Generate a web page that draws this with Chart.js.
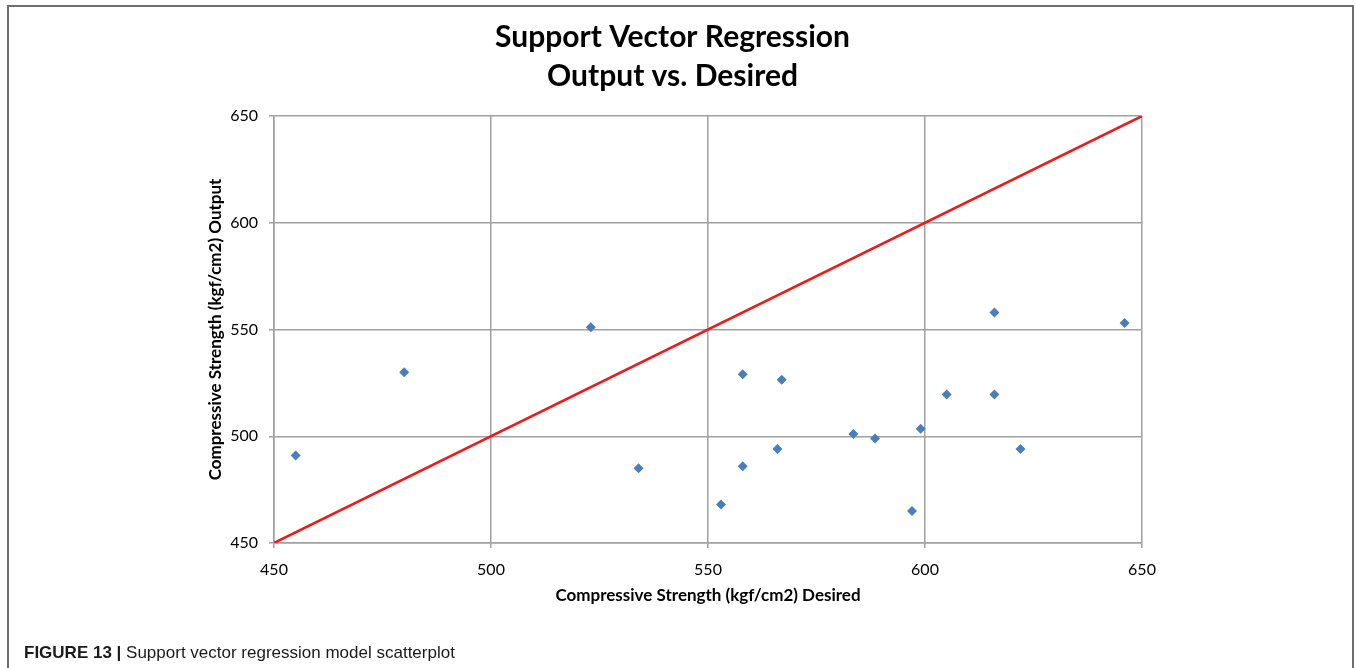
<!DOCTYPE html>
<html>
<head>
<meta charset="utf-8">
<script src="https://cdn.jsdelivr.net/npm/chart.js@4.4.1/dist/chart.umd.min.js"></script>
<style>
  html, body { margin: 0; padding: 0; background: #fff; }
  #wrap { position: relative; width: 1356px; height: 668px; overflow: hidden; }
  #frame {
    position: absolute; left: 7px; top: 5px; width: 1347px; height: 700px;
    border: 2px solid #6e6e6e; box-sizing: border-box;
  }
  #chart { position: absolute; left: 0; top: 0; }
  #caption {
    position: absolute; left: 24px; top: 643px;
    font-family: "Liberation Sans", Arial, sans-serif; font-size: 17px; color: #1a1a1a;
    white-space: nowrap;
  }
  #caption b { font-weight: bold; }
</style>
</head>
<body>
<div id="wrap">
  <div id="frame"></div>
  <canvas id="chart" width="1356" height="668"></canvas>
  <div id="caption"><b>FIGURE 13 |</b> Support vector regression model scatterplot</div>
</div>
<script>
// Desired compressive strength (kgf/cm2) of each test specimen
const desired = [455, 480, 523, 534, 553, 558, 558, 566, 567, 583.5, 588.5, 597, 599, 605, 616, 616, 622, 646];
// Strength predicted by the SVR model for the same specimens
const output  = [491, 530, 551, 485, 468, 529, 486, 494, 526.5, 501, 499, 465, 503.5, 519.5, 558, 519.5, 494, 553];
// Ideal fit line (output = desired)
const idealX = [450, 650];
const idealY = [450, 650];
const axisTicks = [450, 500, 550, 600, 650];

const points = desired.map((d, i) => ({ x: d, y: output[i] }));
const ideal = idealX.map((d, i) => ({ x: d, y: idealY[i] }));

const gridColor = '#a0a0a0';
const font = 'Lato, "Open Sans", sans-serif';

new Chart(document.getElementById('chart'), {
  type: 'scatter',
  data: {
    datasets: [
      {
        label: 'Ideal',
        data: ideal,
        showLine: true,
        borderColor: '#ee1a1a',
        borderWidth: 2.5,
        pointRadius: 0,
        order: 1
      },
      {
        label: 'SVR output',
        data: points,
        pointStyle: 'rectRot',
        pointRadius: 5,
        pointBackgroundColor: '#4a7ebb',
        pointBorderColor: '#4a7ebb',
        pointBorderWidth: 0,
        order: 0
      }
    ]
  },
  options: {
    responsive: false,
    animation: false,
    layout: { padding: { left: 203, right: 214, top: 0, bottom: 62 } },
    plugins: {
      legend: { display: false },
      tooltip: { enabled: false },
      title: {
        display: true,
        text: ['Support Vector Regression', 'Output vs. Desired'],
        color: '#000',
        font: { family: font, size: 30, weight: 'bold', lineHeight: 1.3 },
        padding: { top: 18, bottom: 20 }
      }
    },
    scales: {
      x: {
        type: 'linear',
        min: 450, max: 650,
        afterBuildTicks: s => { s.ticks = axisTicks.map(v => ({ value: v })); },
        afterFit: s => { s.height = 63; },
        grid: { color: gridColor, lineWidth: 1.5, tickLength: 5 },
        border: { color: gridColor, width: 1.5 },
        ticks: { color: '#000', font: { family: font, size: 16 }, padding: 12 },
        title: {
          display: true,
          text: 'Compressive Strength (kgf/cm2) Desired',
          color: '#000',
          font: { family: font, size: 17, weight: 'bold' },
          padding: { top: 4, bottom: 0 }
        }
      },
      y: {
        type: 'linear',
        min: 450, max: 650,
        afterBuildTicks: s => { s.ticks = axisTicks.map(v => ({ value: v })); },
        afterFit: s => { s.width = 71; },
        grid: { color: gridColor, lineWidth: 1.5, tickLength: 5 },
        border: { color: gridColor, width: 1.5 },
        ticks: { color: '#000', font: { family: font, size: 16 }, padding: 11 },
        title: {
          display: true,
          text: 'Compressive Strength (kgf/cm2) Output',
          color: '#000',
          font: { family: font, size: 17, weight: 'bold' },
          padding: { top: 2, bottom: 0 }
        }
      }
    }
  }
});
</script>
</body>
</html>
